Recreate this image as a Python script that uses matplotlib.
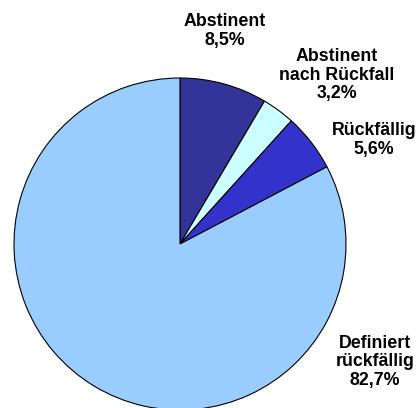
import matplotlib.pyplot as plt

# Data
labels = ['Abstinent', 'Abstinent\nnach Rückfall', 'Rückfällig', 'Definiert\nrückfällig']
shares = [8.5, 3.2, 5.6, 82.7]
colors = ['#333399', '#CCFFFF', '#3333CC', '#99CCFF']

# label anchor points in pixel coords (x, y from top)
label_pos = [(225, 31), (337, 75), (374, 140), (375, 362)]

W, H = 420, 408
fig = plt.figure(figsize=(W / 100, H / 100), dpi=100)
ax = fig.add_axes([0, 0, 1, 1])

cx, cy, r = 180, 244, 166
ax.pie(shares, colors=colors, startangle=90, counterclock=False,
       center=(cx, H - cy), radius=r, frame=True,
       wedgeprops={'edgecolor': 'black', 'linewidth': 0.8})
ax.set_xlim(0, W)
ax.set_ylim(0, H)
ax.set_aspect('equal')
ax.axis('off')

for lab, val, (x, y) in zip(labels, shares, label_pos):
    txt = f'{lab}\n{val:.1f}%'.replace('.', ',')
    ax.text(x, H - y, txt, ha='center', va='center', fontsize=12.8,
            fontweight='bold', family='Liberation Sans', linespacing=1.15)

fig.savefig('out.png', dpi=100)
